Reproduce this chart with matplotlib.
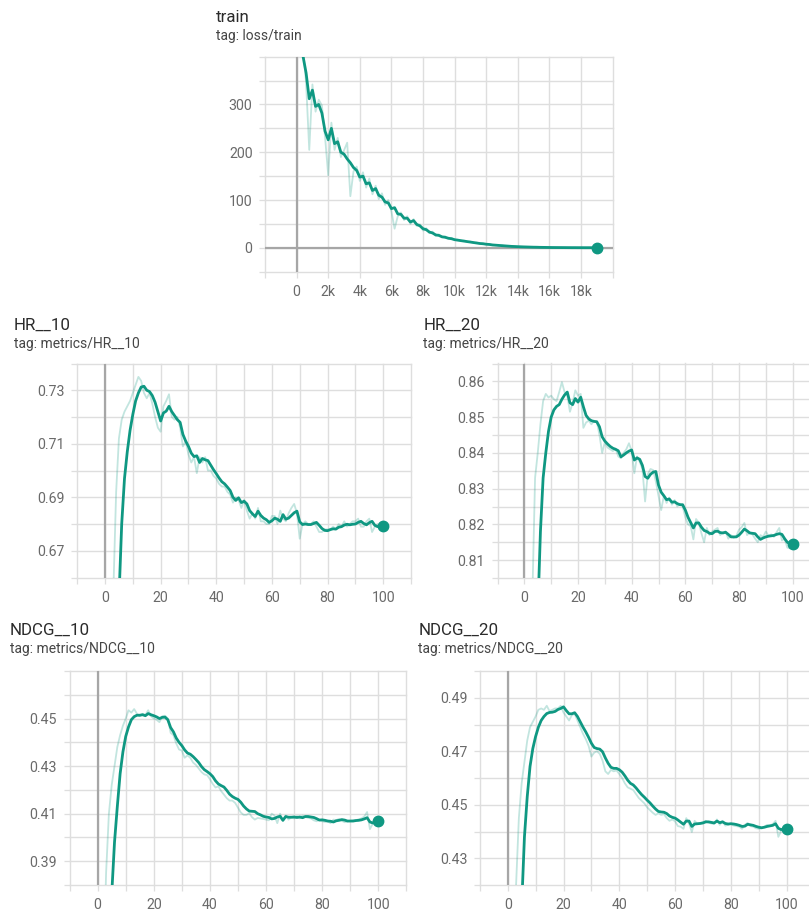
import numpy as np
import matplotlib
matplotlib.use('Agg')
import matplotlib.pyplot as plt
from matplotlib.ticker import FixedLocator, FuncFormatter, NullFormatter

plt.rcParams['font.family'] = ['Roboto', 'DejaVu Sans']

# ---------------- data ----------------
loss_steps = list(range(0, 19001, 200))
loss_smooth = [1000, 600, 402, 366, 312, 330, 296, 300, 282, 244, 226, 250,
               218, 222, 200, 196, 186, 178, 168, 162, 148, 150,
               134, 136, 120, 124, 110, 106, 96, 94, 82, 84,
               71, 70, 62, 62, 54, 57, 49, 46, 40, 38,
               33, 31, 27, 26, 23, 22, 20, 19, 17, 16,
               15, 14, 13, 12, 11, 10, 9, 8.5, 7.5, 7,
               6, 5.5, 5, 4.5, 4, 3.5, 3, 2.7, 2.4, 2.1,
               1.9, 1.7, 1.5, 1.3, 1.2, 1.0, 0.9, 0.8, 0.7, 0.6,
               0.55, 0.5, 0.45, 0.4, 0.35, 0.3, 0.3, 0.25, 0.25, 0.2,
               0.2, 0.2, 0.2, 0.2]
loss_raw = [1000, 650, 420, 345, 205, 342, 285, 310, 298, 232, 152, 262,
            205, 230, 190, 204, 220, 108, 160, 170, 140, 158,
            126, 145, 112, 130, 102, 114, 90, 100, 76, 40,
            66, 74, 58, 66, 50, 60, 46, 49, 36, 41,
            31, 34, 25, 28, 22, 24, 19, 21, 16, 17,
            14, 15, 12, 13, 10, 11, 8.5, 9, 7, 7.5,
            5.5, 6, 4.5, 5, 3.6, 4, 2.8, 3.1, 2.2, 2.4,
            1.8, 1.9, 1.4, 1.5, 1.1, 1.1, 0.85, 0.9, 0.65, 0.7,
            0.5, 0.55, 0.42, 0.45, 0.33, 0.35, 0.28, 0.3, 0.24, 0.25,
            0.2, 0.2, 0.2, 0.2]

epochs = list(range(0, 101))

hr10_smooth = [0.20, 0.38, 0.50, 0.58, 0.625, 0.652, 0.680, 0.697, 0.707, 0.715,
               0.721, 0.726, 0.729, 0.7312, 0.7315, 0.7300, 0.7295, 0.7280, 0.7255, 0.7220,
               0.7185, 0.7215, 0.7222, 0.7240, 0.7220, 0.7205, 0.7190, 0.7180, 0.7135, 0.7110,
               0.7090, 0.7065, 0.7052, 0.7055, 0.7030, 0.7045, 0.7040, 0.7037, 0.7020, 0.7003,
               0.6988, 0.6972, 0.6958, 0.6950, 0.6938, 0.6925, 0.6900, 0.6888, 0.6898, 0.6880,
               0.6885, 0.6875, 0.6850, 0.6838, 0.6828, 0.6848, 0.6832, 0.6822, 0.6816, 0.6806,
               0.6812, 0.6822, 0.6818, 0.6810, 0.6835, 0.6818, 0.6822, 0.6832, 0.6842, 0.6848,
               0.6808, 0.6798, 0.6800, 0.6798, 0.6798, 0.6802, 0.6806, 0.6795, 0.6783, 0.6776,
               0.6775, 0.6779, 0.6782, 0.6781, 0.6788, 0.6790, 0.6796, 0.6799, 0.6797, 0.6799,
               0.6800, 0.6806, 0.6810, 0.6802, 0.6797, 0.6805, 0.6810, 0.6795, 0.6790, 0.6794,
               0.6794]
hr10_raw = [0.20, 0.45, 0.60, 0.655, 0.692, 0.712, 0.719, 0.722, 0.724, 0.726,
            0.729, 0.732, 0.735, 0.7335, 0.729, 0.727, 0.729, 0.725, 0.720, 0.716,
            0.7145, 0.724, 0.726, 0.7285, 0.720, 0.719, 0.720, 0.716, 0.709, 0.711,
            0.706, 0.703, 0.705, 0.699, 0.705, 0.703, 0.705, 0.700, 0.700, 0.698,
            0.697, 0.695, 0.694, 0.694, 0.692, 0.691, 0.688, 0.690, 0.689, 0.686,
            0.689, 0.685, 0.682, 0.684, 0.682, 0.686, 0.681, 0.681, 0.680, 0.680,
            0.683, 0.683, 0.680, 0.685, 0.682, 0.681, 0.684, 0.686, 0.6875, 0.684,
            0.6745, 0.680, 0.681, 0.680, 0.680, 0.681, 0.679, 0.677, 0.677, 0.678,
            0.678, 0.678, 0.679, 0.678, 0.680, 0.679, 0.681, 0.679, 0.680, 0.681,
            0.681, 0.682, 0.679, 0.679, 0.681, 0.682, 0.677, 0.679, 0.680, 0.679,
            0.6794]

hr20_smooth = [0.30, 0.50, 0.62, 0.70, 0.76, 0.795, 0.818, 0.833, 0.840, 0.846,
               0.850, 0.852, 0.853, 0.8535, 0.855, 0.8562, 0.8570, 0.8540, 0.8535, 0.8552,
               0.8542, 0.8556, 0.8529, 0.8505, 0.8495, 0.8490, 0.8488, 0.8487, 0.8473, 0.8445,
               0.8433, 0.8425, 0.8418, 0.8413, 0.8410, 0.8406, 0.8389, 0.8394, 0.8400, 0.8405,
               0.8408, 0.8380, 0.8386, 0.8382, 0.8365, 0.8334, 0.8329, 0.8340, 0.8346, 0.8348,
               0.8310, 0.8290, 0.8280, 0.8269, 0.8271, 0.8262, 0.8263, 0.8258, 0.8255, 0.8255,
               0.8240, 0.8220, 0.8205, 0.8190, 0.8204, 0.8204, 0.8192, 0.8183, 0.8180, 0.8175,
               0.8174, 0.8180, 0.8181, 0.8177, 0.8176, 0.8178, 0.8172, 0.8165, 0.8165, 0.8165,
               0.8170, 0.8178, 0.8187, 0.8182, 0.8176, 0.8175, 0.8174, 0.8165, 0.8158, 0.8162,
               0.8165, 0.8167, 0.8168, 0.8169, 0.8172, 0.8174, 0.8172, 0.8160, 0.8150, 0.8146,
               0.8144]
hr20_raw = [0.30, 0.62, 0.74, 0.80, 0.833, 0.840, 0.848, 0.8545, 0.8565, 0.8555,
            0.8560, 0.8550, 0.8545, 0.8570, 0.8598, 0.8570, 0.8560, 0.8515, 0.8540, 0.8575,
            0.8560, 0.8565, 0.8470, 0.8485, 0.8490, 0.8480, 0.8490, 0.8488, 0.8450, 0.8400,
            0.8430, 0.8415, 0.8410, 0.8405, 0.8412, 0.8390, 0.8385, 0.8400, 0.8410, 0.8427,
            0.8405, 0.8343, 0.8390, 0.8375, 0.8355, 0.8264, 0.8340, 0.8355, 0.8352, 0.8320,
            0.8280, 0.8240, 0.8280, 0.8260, 0.8275, 0.8255, 0.8268, 0.8250, 0.8258, 0.8250,
            0.8220, 0.8200, 0.8195, 0.8158, 0.8215, 0.8205, 0.8175, 0.8150, 0.8190, 0.8170,
            0.8180, 0.8185, 0.8190, 0.8170, 0.8178, 0.8180, 0.8160, 0.8170, 0.8162, 0.8168,
            0.8185, 0.8192, 0.8204, 0.8170, 0.8178, 0.8172, 0.8160, 0.8150, 0.8170, 0.8165,
            0.8180, 0.8168, 0.8172, 0.8165, 0.8178, 0.8190, 0.8155, 0.8160, 0.8135, 0.8133,
            0.8144]

ndcg10_smooth = [0.10, 0.20, 0.27, 0.32, 0.355, 0.376, 0.398, 0.413, 0.4268, 0.4360,
                 0.4425, 0.4465, 0.4495, 0.4508, 0.4514, 0.4514, 0.4516, 0.4512, 0.4521, 0.4516,
                 0.4512, 0.4507, 0.4500, 0.4505, 0.4506, 0.4495, 0.4462, 0.4444, 0.4418, 0.4400,
                 0.4386, 0.4368, 0.4355, 0.4350, 0.4340, 0.4328, 0.4315, 0.4298, 0.4285, 0.4277,
                 0.4268, 0.4256, 0.4238, 0.4225, 0.4218, 0.4212, 0.4198, 0.4182, 0.4172, 0.4165,
                 0.4160, 0.4148, 0.4132, 0.4120, 0.4111, 0.4110, 0.4109, 0.4100, 0.4095, 0.4089,
                 0.4086, 0.4084, 0.4078, 0.4080, 0.4086, 0.4089, 0.4072, 0.4088, 0.4085, 0.4085,
                 0.4086, 0.4084, 0.4086, 0.4083, 0.4088, 0.4088, 0.4086, 0.4084, 0.4079, 0.4073,
                 0.4074, 0.4072, 0.4069, 0.4068, 0.4065, 0.4070, 0.4072, 0.4075, 0.4073, 0.4069,
                 0.4069, 0.4069, 0.4071, 0.4072, 0.4074, 0.4078, 0.4083, 0.4065, 0.4061, 0.4066,
                 0.4068]
ndcg10_raw = [0.10, 0.26, 0.34, 0.385, 0.410, 0.422, 0.430, 0.438, 0.443, 0.447,
              0.450, 0.4535, 0.4525, 0.4540, 0.4520, 0.4510, 0.4520, 0.4515, 0.4535, 0.4510,
              0.4500, 0.4495, 0.4485, 0.4510, 0.4512, 0.4500, 0.4440, 0.4430, 0.4395, 0.4370,
              0.4365, 0.4335, 0.4345, 0.4335, 0.4315, 0.4305, 0.4290, 0.4275, 0.4265, 0.4262,
              0.4245, 0.4225, 0.4210, 0.4215, 0.4195, 0.4180, 0.4165, 0.4155, 0.4155, 0.4145,
              0.4125, 0.4105, 0.4095, 0.4095, 0.4102, 0.4085, 0.4075, 0.4082, 0.4080, 0.4078,
              0.4075, 0.4072, 0.4100, 0.4092, 0.4060, 0.4100, 0.4070, 0.4092, 0.4075, 0.4085,
              0.4080, 0.4090, 0.4080, 0.4092, 0.4086, 0.4082, 0.4080, 0.4072, 0.4068, 0.4075,
              0.4068, 0.4065, 0.4067, 0.4060, 0.4075, 0.4073, 0.4078, 0.4070, 0.4064, 0.4068,
              0.4070, 0.4072, 0.4073, 0.4076, 0.4080, 0.4088, 0.4107, 0.4035, 0.4058, 0.4068,
              0.4068]

ndcg20_smooth = [0.12, 0.22, 0.30, 0.355, 0.39, 0.412, 0.438, 0.453, 0.4643, 0.4710,
                 0.4755, 0.4790, 0.4815, 0.4830, 0.4841, 0.4845, 0.4846, 0.4849, 0.4856, 0.4860,
                 0.4866, 0.4852, 0.4840, 0.4840, 0.4844, 0.4830, 0.4810, 0.4790, 0.4772, 0.4752,
                 0.4730, 0.4714, 0.4710, 0.4708, 0.4698, 0.4675, 0.4655, 0.4640, 0.4636, 0.4636,
                 0.4631, 0.4622, 0.4608, 0.4592, 0.4580, 0.4574, 0.4563, 0.4550, 0.4538, 0.4528,
                 0.4517, 0.4507, 0.4495, 0.4484, 0.4475, 0.4473, 0.4472, 0.4467, 0.4458, 0.4453,
                 0.4450, 0.4443, 0.4435, 0.4427, 0.4439, 0.4439, 0.4419, 0.4428, 0.4429, 0.4430,
                 0.4432, 0.4436, 0.4436, 0.4434, 0.4432, 0.4439, 0.4433, 0.4436, 0.4430, 0.4428,
                 0.4429, 0.4428, 0.4426, 0.4423, 0.4419, 0.4420, 0.4427, 0.4425, 0.4423, 0.4419,
                 0.4416, 0.4414, 0.4416, 0.4419, 0.4421, 0.4423, 0.4429, 0.4412, 0.4407, 0.4410,
                 0.4411]
ndcg20_raw = [0.12, 0.30, 0.38, 0.42, 0.445, 0.458, 0.466, 0.474, 0.479, 0.481,
              0.483, 0.4855, 0.4860, 0.4855, 0.4870, 0.4850, 0.4855, 0.4860, 0.4860, 0.4870,
              0.4845, 0.4830, 0.4815, 0.4835, 0.4840, 0.4815, 0.4790, 0.4765, 0.4745, 0.4720,
              0.4680, 0.4695, 0.4700, 0.4690, 0.4665, 0.4625, 0.4615, 0.4630, 0.4625, 0.4628,
              0.4615, 0.4600, 0.4580, 0.4565, 0.4560, 0.4555, 0.4540, 0.4525, 0.4515, 0.4505,
              0.4490, 0.4480, 0.4470, 0.4462, 0.4468, 0.4462, 0.4465, 0.4450, 0.4440, 0.4445,
              0.4438, 0.4420, 0.4418, 0.4410, 0.4450, 0.4430, 0.4398, 0.4440, 0.4428, 0.4432,
              0.4435, 0.4440, 0.4433, 0.4430, 0.4428, 0.4445, 0.4425, 0.4440, 0.4422, 0.4425,
              0.4430, 0.4422, 0.4420, 0.4418, 0.4410, 0.4425, 0.4432, 0.4420, 0.4418, 0.4412,
              0.4410, 0.4412, 0.4418, 0.4425, 0.4422, 0.4428, 0.4440, 0.4380, 0.4402, 0.4412,
              0.4411]

# ---------------- style ----------------
W, H = 809, 911
fig = plt.figure(figsize=(W / 100, H / 100), dpi=100)
fig.patch.set_facecolor('white')

LINE = '#0f9882'
GRID = '#dedede'
ZERO = '#a6a6a6'
TICK_TXT = '#6a6a6a'
TITLE_C = '#2b2b2b'
SUB_C = '#454545'


def px_axes(left, top, right, bottom):
    return fig.add_axes([left / W, 1 - bottom / H, (right - left) / W, (bottom - top) / H])


def style(ax, xmaj, xmin, ymaj, ymin, xfmt, yfmt):
    ax.set_facecolor('white')
    for s in ax.spines.values():
        s.set_visible(False)
    ax.xaxis.set_major_locator(FixedLocator(xmaj))
    ax.xaxis.set_minor_locator(FixedLocator(xmin))
    ax.yaxis.set_major_locator(FixedLocator(ymaj))
    ax.yaxis.set_minor_locator(FixedLocator(ymin))
    ax.xaxis.set_major_formatter(FuncFormatter(xfmt))
    ax.yaxis.set_major_formatter(FuncFormatter(yfmt))
    ax.xaxis.set_minor_formatter(NullFormatter())
    ax.yaxis.set_minor_formatter(NullFormatter())
    ax.grid(True, which='both', color=GRID, lw=1.0, zorder=0)
    ax.set_axisbelow(True)
    ax.tick_params(which='both', length=4.5, width=0.9, color=GRID,
                   labelcolor=TICK_TXT, labelsize=10.2)
    ax.tick_params(axis='y', which='both', pad=4.5)
    ax.tick_params(axis='x', which='both', pad=5.0)


def draw_series(ax, x, raw, smooth):
    ax.plot(x, raw, color=LINE, alpha=0.25, lw=1.3, zorder=2)
    ax.plot(x, smooth, color=LINE, lw=2.0, zorder=3, solid_joinstyle='round')
    ax.plot([x[-1]], [smooth[-1]], 'o', ms=7.5, color=LINE, zorder=4, clip_on=False)


def titles(x, y, title, sub):
    fig.text(x / W, 1 - y / H, title, fontsize=12.2, color=TITLE_C, va='baseline', ha='left')
    fig.text(x / W, 1 - (y + 18.5) / H, sub, fontsize=10.0, color=SUB_C, va='baseline', ha='left')


def kfmt(v, pos):
    return '0' if v == 0 else '%dk' % int(round(v / 1000))


def ifmt(v, pos):
    return '%d' % int(round(v))


def f2(v, pos):
    return '%.2f' % v


# ---- loss/train ----
ax0 = px_axes(265, 56.7, 612.7, 271.7)
draw_series(ax0, loss_steps, loss_raw, loss_smooth)
ax0.axvline(0, color=ZERO, lw=1.6, zorder=1.5)
ax0.axhline(0, color=ZERO, lw=1.6, zorder=1.5)
ax0.set_xlim(-2000, 20000)
ax0.set_ylim(-50, 400)
style(ax0, [0, 2000, 4000, 6000, 8000, 10000, 12000, 14000, 16000, 18000], [-2000, 20000],
      [0, 100, 200, 300], [-50, 50, 150, 250, 350, 400], kfmt, ifmt)
titles(216, 21.7, 'train', 'tag: loss/train')

ex_maj = [0, 20, 40, 60, 80, 100]
ex_min = [-10, 10, 30, 50, 70, 90, 110]

panels = [
    ((77.2, 363.5, 411.0, 577.5), (0.66, 0.74), [0.67, 0.69, 0.71, 0.73],
     [0.66, 0.68, 0.70, 0.72, 0.74], hr10_raw, hr10_smooth, (14, 329.3), 'HR__10', 'tag: metrics/HR__10'),
    ((497.5, 363.5, 819.5, 578.0), (0.805, 0.865), [0.81, 0.82, 0.83, 0.84, 0.85, 0.86],
     [0.805, 0.815, 0.825, 0.835, 0.845, 0.855, 0.865], hr20_raw, hr20_smooth, (423.3, 329.3), 'HR__20', 'tag: metrics/HR__20'),
    ((69.6, 671.0, 406.4, 885.0), (0.38, 0.47), [0.39, 0.41, 0.43, 0.45],
     [0.38, 0.40, 0.42, 0.44, 0.46, 0.47], ndcg10_raw, ndcg10_smooth, (10, 635), 'NDCG__10', 'tag: metrics/NDCG__10'),
    ((479.8, 671.0, 814.6, 885.0), (0.42, 0.50), [0.43, 0.45, 0.47, 0.49],
     [0.42, 0.44, 0.46, 0.48, 0.50], ndcg20_raw, ndcg20_smooth, (418.3, 635), 'NDCG__20', 'tag: metrics/NDCG__20'),
]

axes = [ax0]
for box, ylim, ymaj, ymin, raw, smooth, tpos, title, tag in panels:
    ax = px_axes(*box)
    draw_series(ax, epochs, raw, smooth)
    ax.axvline(0, color=ZERO, lw=1.6, zorder=1.5)
    ax.set_xlim(-10, 110)
    ax.set_ylim(*ylim)
    style(ax, ex_maj, ex_min, ymaj, ymin, ifmt, f2)
    titles(tpos[0], tpos[1], title, tag)
    axes.append(ax)

fig.canvas.draw()
for ax in axes:
    for ln in ax.get_xgridlines() + ax.get_ygridlines():
        ln.set_clip_on(False)
    for t in ax.xaxis.get_minor_ticks() + ax.yaxis.get_minor_ticks():
        t.gridline.set_clip_on(False)

fig.savefig('out.png', dpi=100, facecolor='white')
